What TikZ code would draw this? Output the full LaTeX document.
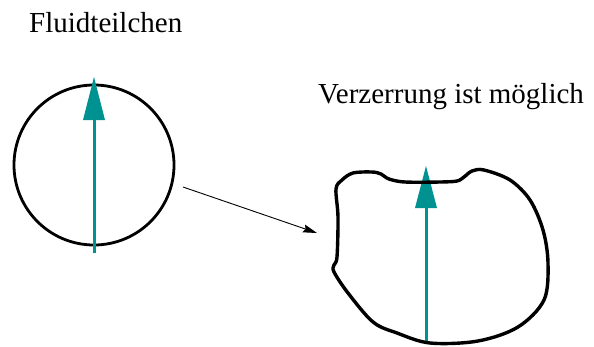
\documentclass[tikz,border=0pt]{standalone}
\usepackage{fontspec}
\setmainfont{Liberation Serif}
\usetikzlibrary{arrows.meta}
\definecolor{teal}{RGB}{0,145,145}
\tikzset{
  label/.style={anchor=base west, inner sep=0pt, font=\fontsize{29}{34}\selectfont},
  outline/.style={draw=black, line width=2.8pt},
  thickoutline/.style={draw=black, line width=3.4pt},
  vecshaft/.style={draw=teal, line width=3pt},
  vechead/.style={fill=teal},
  flow/.style={draw=black, line width=0.9pt, -{Stealth[length=14pt,width=8pt,inset=2pt]}}
}
\begin{document}
\begin{tikzpicture}[x=1pt,y=-1pt]
  \useasboundingbox (0,0) rectangle (594,346);

  % labels
  \node[label] (t1) at (29,32) {Fluidteilchen};
  \node[label] (t2) at (318,103) {Verzerrung ist möglich};

  % undeformed particle
  \node[outline, circle, minimum size=160pt, inner sep=0pt] (p) at (94,165) {};
  \draw[vecshaft] (94,253) -- (94,119);
  \fill[vechead] (94,77) -- (105,120) -- (83,120) -- cycle;

  % deformed particle: vector first, outline on top
  \draw[vecshaft] (426,343) -- (426,207);
  \fill[vechead] (426,166) -- (437,208) -- (415,208) -- cycle;
  \draw[thickoutline, line join=round] plot[smooth cycle, tension=0.55] coordinates {
    (336,189) (342,180) (353,173) (372,172) (381,174) (389,179)
    (405,182) (440,182) (457,181) (464,177) (472,171) (484,170)
    (510,180) (530,200) (543,230) (548,263) (544,300) (518,327)
    (478,341) (430,343) (397,333) (373,322) (348,293) (334,272)
    (334,265) (337,257) (338,217)
  };

  % mapping arrow
  \coordinate (a0) at (183,187);
  \coordinate (a1) at (317,233);
  \draw[flow] (a0) -- (a1);
\end{tikzpicture}
\end{document}
